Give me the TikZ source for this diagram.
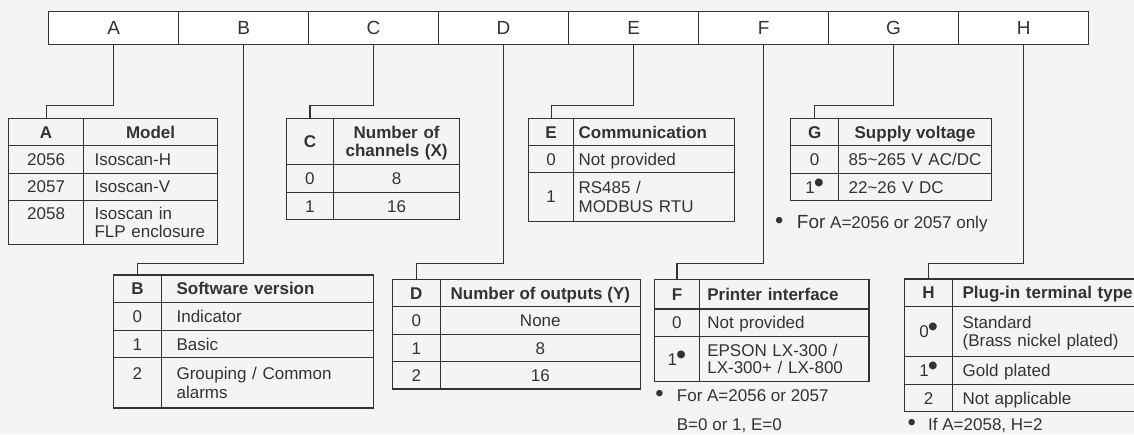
\documentclass[tikz,border=0pt]{standalone}
\usepackage{fontspec}
\setmainfont{Liberation Sans}
\definecolor{ink}{HTML}{333333}
\definecolor{paper}{HTML}{F4F4F4}
\newcommand{\dotmark}{\hspace{-1pt}\raisebox{1pt}{\scalebox{1.7}{\textbullet}}}
\newcommand{\notedot}{\scalebox{1.4}{\textbullet}}
\tikzset{
  wire/.style={draw=ink, line width=1.2pt},
  box/.style={draw=ink, line width=1.2pt, anchor=north west, inner sep=0pt, text=ink,
    font=\fontsize{17}{18.5}\selectfont, text height=12.2pt, text depth=0pt},
  key/.style={box, align=center, minimum width=#1},
  val/.style={box, align=left, text width=#1},
  ht/.style={minimum height=#1},
  two/.style={text depth=18.5pt},
  bar/.style={box, fill=white, minimum width=130, minimum height=33.3,
    font=\fontsize{19}{22}\selectfont, text height=13.6pt},
  note/.style={anchor=base west, inner sep=0pt, text=ink, font=\fontsize{17}{18.5}\selectfont}
}
\begin{document}
\begin{tikzpicture}[x=1pt, y=-1pt]
\useasboundingbox (0,0) rectangle (1134,434);
\fill[paper] (0,0) rectangle (1134,434);
\clip (0,0) rectangle (1134,434);
% code bar
\node[bar] (A) at (48,10.7) {A};
\node[bar] (B) at (178,10.7) {B};
\node[bar] (C) at (308,10.7) {C};
\node[bar] (D) at (438,10.7) {D};
\node[bar] (E) at (568,10.7) {E};
\node[bar] (F) at (698,10.7) {F};
\node[bar] (G) at (828,10.7) {G};
\node[bar] (H) at (958,10.7) {H};
% A: model
\node[key=75, ht=27] (kA) at (8,118) {\bfseries A};
\node[key=134, ht=27] (hA) at (83,118) {\bfseries Model};
\node[key=75, ht=27.5] (kA1) at (8,145) {2056};
\node[val=112, inner xsep=11pt, ht=27.5] (vA1) at (83,145) {Isoscan-H};
\node[key=75, ht=27.5] (kA2) at (8,172.5) {2057};
\node[val=112, inner xsep=11pt, ht=27.5] (vA2) at (83,172.5) {Isoscan-V};
\node[key=75, ht=43.5, two] (kA3) at (8,200) {2058};
\node[val=112, inner xsep=11pt, ht=43.5, two] (vA3) at (83,200) {Isoscan in\\FLP enclosure};
% C: channels
\node[key=47.3, ht=46] (kC) at (285.7,118) {\bfseries C};
\node[val=126, align=center, ht=46, two] (hC) at (333,118) {\bfseries Number of\\\bfseries channels (X)};
\node[key=47.3, ht=27.7] (kC1) at (285.7,164) {0};
\node[key=126, ht=27.7] (vC1) at (333,164) {8};
\node[key=47.3, ht=27.3] (kC2) at (285.7,191.7) {1};
\node[key=126, ht=27.3] (vC2) at (333,191.7) {16};
% E: communication
\node[key=45, ht=27] (kE) at (528,118) {\bfseries E};
\node[val=151, inner xsep=5pt, ht=27] (hE) at (573,118) {\bfseries Communication};
\node[key=45, ht=26.7] (kE1) at (528,145) {0};
\node[val=151, inner xsep=5pt, ht=26.7] (vE1) at (573,145) {Not provided};
\node[key=45, ht=49] (kE2) at (528,171.7) {1};
\node[val=151, inner xsep=5pt, ht=49, two] (vE2) at (573,171.7) {RS485 /\\MODBUS RTU};
% G: supply
\node[key=48, ht=27] (kG) at (790,118) {\bfseries G};
\node[key=153, ht=27] (hG) at (838,118) {\bfseries Supply voltage};
\node[key=48, ht=27.7] (kG1) at (790,145) {0};
\node[val=133, inner xsep=10pt, ht=27.7] (vG1) at (838,145) {85\textasciitilde 265 V AC/DC};
\node[key=48, ht=27.3] (kG2) at (790,172.7) {1\dotmark};
\node[val=133, inner xsep=10pt, ht=27.3] (vG2) at (838,172.7) {22\textasciitilde 26 V DC};
\node[note] (nG) at (774.8,228) {\notedot\hspace{13.6pt}{\fontsize{19}{20}\selectfont For} A=2056 or 2057 only};
% B: software
\node[key=48.3, ht=27.7] (kB) at (112.7,274.3) {\bfseries B};
\node[val=181.7, inner xsep=15pt, ht=27.7] (hB) at (161,274.3) {\bfseries Software version};
\node[key=48.3, ht=27.7] (kB1) at (112.7,302) {0};
\node[val=181.7, inner xsep=15pt, ht=27.7] (vB1) at (161,302) {Indicator};
\node[key=48.3, ht=27.3] (kB2) at (112.7,329.7) {1};
\node[val=181.7, inner xsep=15pt, ht=27.3] (vB2) at (161,329.7) {Basic};
\node[key=48.3, ht=50.3, two] (kB3) at (112.7,357) {2};
\node[val=181.7, inner xsep=15pt, ht=50.3, two] (vB3) at (161,357) {Grouping / Common\\alarms};
% D: outputs
\node[key=48, ht=27.3] (kD) at (391.7,278.7) {\bfseries D};
\node[key=200, ht=27.3] (hD) at (439.7,278.7) {\bfseries Number of outputs (Y)};
\node[key=48, ht=27.7] (kD1) at (391.7,306) {0};
\node[key=200, ht=27.7] (vD1) at (439.7,306) {None};
\node[key=48, ht=27.3] (kD2) at (391.7,333.7) {1};
\node[key=200, ht=27.3] (vD2) at (439.7,333.7) {8};
\node[key=48, ht=27.3] (kD3) at (391.7,361) {2};
\node[key=200, ht=27.3] (vD3) at (439.7,361) {16};
% F: printer
\node[key=44.7, ht=29.3] (kF) at (654,279) {\bfseries F};
\node[val=153.6, inner xsep=8pt, ht=29.3] (hF) at (698.7,279) {\bfseries Printer interface};
\node[key=44.7, ht=27.4] (kF1) at (654,308.3) {0};
\node[val=153.6, inner xsep=8pt, ht=27.4] (vF1) at (698.7,308.3) {Not provided};
\node[key=44.7, ht=45.3] (kF2) at (654,335.7) {1\dotmark};
\node[val=153.6, inner xsep=8pt, ht=45.3, text depth=16.3pt, font=\fontsize{17}{16.3}\selectfont] (vF2) at (698.7,335.7) {EPSON LX-300 /\\LX-300+ / LX-800};
\node[note] (nF) at (655.1,401.7) {\notedot\hspace{13.3pt}For A=2056 or 2057};
\node[note] (nF2) at (676.7,430) {B=0 or 1, E=0};
% H: terminals
\node[key=48, ht=27.7] (kH) at (904,278.3) {\bfseries H};
\node[val=200, inner xsep=10pt, ht=27.7] (hH) at (952,278.3) {\bfseries Plug-in terminal type};
\node[key=48, ht=50] (kH1) at (904,306) {0\dotmark};
\node[val=200, inner xsep=10pt, ht=50, two] (vH1) at (952,306) {Standard\\(Brass nickel plated)};
\node[key=48, ht=27.7] (kH2) at (904,356) {1\dotmark};
\node[val=200, inner xsep=10pt, ht=27.7] (vH2) at (952,356) {Gold plated};
\node[key=48, ht=27.3] (kH3) at (904,383.7) {2};
\node[val=200, inner xsep=10pt, ht=27.3] (vH3) at (952,383.7) {Not applicable};
\node[note] (nH) at (907.5,430) {\notedot\hspace{12.2pt}If A=2058, H=2};
% leaders
\path[wire] (A.south) -- ++(0,60) -| (kA.north);
\path[wire] (C.south) -- ++(0,60) -| (kC.north);
\path[wire] (E.south) -- ++(0,60) -| (kE.north);
\path[wire] (G.south) -- ++(0,60) -| (kG.north);
\path[wire] (B.south) -- ++(0,218.5) -| (kB.north);
\path[wire] (D.south) -- ++(0,218.5) -| (kD.north);
\path[wire] (F.south) -- ++(0,218.5) -| (kF.north);
\path[wire] (H.south) -- ++(0,218.5) -| (kH.north);
\end{tikzpicture}
\end{document}
